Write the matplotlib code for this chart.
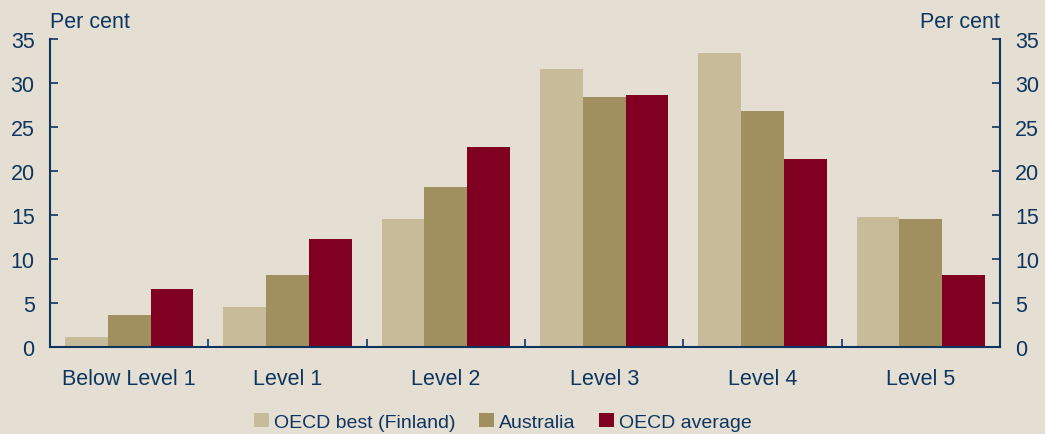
import matplotlib
matplotlib.use("Agg")
import matplotlib.pyplot as plt
import numpy as np
from matplotlib.patches import Patch

categories = ["Below Level 1", "Level 1", "Level 2", "Level 3", "Level 4", "Level 5"]
finland = [1.1, 4.5, 14.6, 31.6, 33.4, 14.8]
australia = [3.6, 8.2, 18.2, 28.4, 26.8, 14.6]
oecd = [6.6, 12.3, 22.7, 28.6, 21.4, 8.2]
series_names = ["OECD best (Finland)", "Australia", "OECD average"]
colors = ["#c8bb9a", "#a08f5f", "#800022"]

bg = "#e4dfd2"
navy = "#0d3560"
plt.rcParams['font.family'] = ['Liberation Sans', 'DejaVu Sans']

fig = plt.figure(figsize=(10.45, 4.35), dpi=100, facecolor=bg)
ax = fig.add_axes([50/1045, 87/435, 950/1045, 308/435])
ax.set_facecolor(bg)

x = np.arange(len(categories))
w = 0.27
for i, (vals, c) in enumerate(zip([finland, australia, oecd], colors)):
    ax.bar(x + (i - 1) * w, vals, width=w, color=c, linewidth=0)

ax.set_xlim(-0.5, len(categories) - 0.5)
ax.set_ylim(0, 35)
ax.set_yticks(range(0, 36, 5))
ax.tick_params(axis='y', direction='in', length=6, color=navy, width=1.2,
               labelsize=15.5, labelcolor=navy, left=True, right=True,
               labelleft=True, labelright=True, pad=11)
ax.set_xticks(x)
ax.set_xticklabels(categories)
ax.tick_params(axis='x', length=0, labelsize=15.5, labelcolor=navy, pad=15)
ax.set_xticks(np.arange(-0.5, len(categories) - 0.4, 1), minor=True)
ax.tick_params(axis='x', which='minor', direction='in', length=6, color=navy, width=1.2)

for s in ['left', 'right', 'bottom']:
    ax.spines[s].set_color(navy)
    ax.spines[s].set_linewidth(1.5)
ax.spines['top'].set_visible(False)

fig.text(50/1045, 1 - 22/435, "Per cent", fontsize=15.5, color=navy, ha='left', va='center')
fig.text(1000/1045, 1 - 22/435, "Per cent", fontsize=15.5, color=navy, ha='right', va='center')

handles = [Patch(facecolor=c, edgecolor='none') for c in colors]
fig.legend(handles, series_names, loc='center', bbox_to_anchor=(503/1045, 1 - 423/435),
           ncol=3, frameon=False, fontsize=14, labelcolor=navy,
           handlelength=0.75, handleheight=0.75, handletextpad=0.28, columnspacing=1.2,
           borderaxespad=0)

fig.savefig("out.png", dpi=100, facecolor=bg)
